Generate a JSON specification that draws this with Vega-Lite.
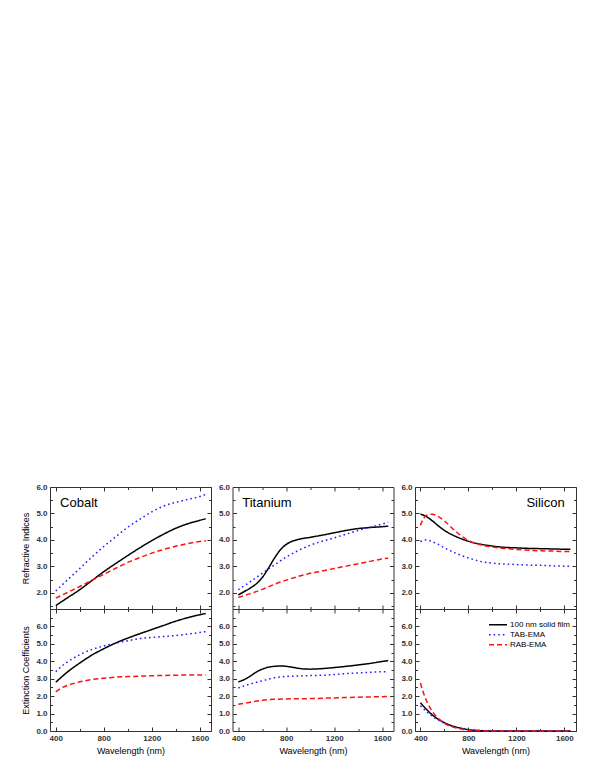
{
  "$schema": "https://vega.github.io/schema/vega-lite/v6.json",
  "padding": {"left": 21, "top": 482, "right": 5, "bottom": 5},
  "background": "white",
  "config": {
    "view": {"stroke": "#333333", "strokeWidth": 1},
    "axis": {
      "labelFont": "Liberation Sans", "labelFontSize": 8, "labelFontWeight": "bold", "labelColor": "#333333",
      "titleFont": "Liberation Sans", "titleFontSize": 9, "titleFontWeight": "normal", "titleColor": "#000000",
      "tickColor": "#333333", "tickWidth": 1, "domain": false, "grid": false, "labelOverlap": false, "labelPadding": 7
    },
    "legend": {
      "orient": "none", "legendX": 438, "legendY": 133, "title": null, "padding": 0,
      "symbolType": "stroke", "symbolSize": 324, "symbolStrokeWidth": 1.5, "clipHeight": 9.3, "rowPadding": 0,
      "labelFont": "Liberation Sans", "labelFontSize": 8, "labelColor": "#000000", "labelOffset": 2
    }
  },
  "datasets": {
    "d": [
      {"m":"Cobalt","q":"n","s":"100 nm solid film","w":400,"v":1.52},{"m":"Cobalt","q":"n","s":"100 nm solid film","w":500,"v":1.82},{"m":"Cobalt","q":"n","s":"100 nm solid film","w":600,"v":2.12},{"m":"Cobalt","q":"n","s":"100 nm solid film","w":700,"v":2.46},{"m":"Cobalt","q":"n","s":"100 nm solid film","w":800,"v":2.80},{"m":"Cobalt","q":"n","s":"100 nm solid film","w":900,"v":3.11},{"m":"Cobalt","q":"n","s":"100 nm solid film","w":1000,"v":3.41},{"m":"Cobalt","q":"n","s":"100 nm solid film","w":1100,"v":3.70},{"m":"Cobalt","q":"n","s":"100 nm solid film","w":1200,"v":3.97},{"m":"Cobalt","q":"n","s":"100 nm solid film","w":1300,"v":4.22},{"m":"Cobalt","q":"n","s":"100 nm solid film","w":1400,"v":4.44},{"m":"Cobalt","q":"n","s":"100 nm solid film","w":1500,"v":4.61},{"m":"Cobalt","q":"n","s":"100 nm solid film","w":1600,"v":4.74},{"m":"Cobalt","q":"n","s":"100 nm solid film","w":1650,"v":4.80},
      {"m":"Cobalt","q":"n","s":"TAB-EMA","w":400,"v":2.07},{"m":"Cobalt","q":"n","s":"TAB-EMA","w":500,"v":2.50},{"m":"Cobalt","q":"n","s":"TAB-EMA","w":600,"v":2.92},{"m":"Cobalt","q":"n","s":"TAB-EMA","w":700,"v":3.35},{"m":"Cobalt","q":"n","s":"TAB-EMA","w":800,"v":3.75},{"m":"Cobalt","q":"n","s":"TAB-EMA","w":900,"v":4.12},{"m":"Cobalt","q":"n","s":"TAB-EMA","w":1000,"v":4.48},{"m":"Cobalt","q":"n","s":"TAB-EMA","w":1100,"v":4.78},{"m":"Cobalt","q":"n","s":"TAB-EMA","w":1200,"v":5.06},{"m":"Cobalt","q":"n","s":"TAB-EMA","w":1300,"v":5.28},{"m":"Cobalt","q":"n","s":"TAB-EMA","w":1400,"v":5.42},{"m":"Cobalt","q":"n","s":"TAB-EMA","w":1500,"v":5.53},{"m":"Cobalt","q":"n","s":"TAB-EMA","w":1600,"v":5.64},{"m":"Cobalt","q":"n","s":"TAB-EMA","w":1650,"v":5.72},
      {"m":"Cobalt","q":"n","s":"RAB-EMA","w":400,"v":1.80},{"m":"Cobalt","q":"n","s":"RAB-EMA","w":500,"v":2.02},{"m":"Cobalt","q":"n","s":"RAB-EMA","w":600,"v":2.24},{"m":"Cobalt","q":"n","s":"RAB-EMA","w":700,"v":2.47},{"m":"Cobalt","q":"n","s":"RAB-EMA","w":800,"v":2.70},{"m":"Cobalt","q":"n","s":"RAB-EMA","w":900,"v":2.93},{"m":"Cobalt","q":"n","s":"RAB-EMA","w":1000,"v":3.15},{"m":"Cobalt","q":"n","s":"RAB-EMA","w":1100,"v":3.33},{"m":"Cobalt","q":"n","s":"RAB-EMA","w":1200,"v":3.50},{"m":"Cobalt","q":"n","s":"RAB-EMA","w":1300,"v":3.64},{"m":"Cobalt","q":"n","s":"RAB-EMA","w":1400,"v":3.76},{"m":"Cobalt","q":"n","s":"RAB-EMA","w":1500,"v":3.86},{"m":"Cobalt","q":"n","s":"RAB-EMA","w":1600,"v":3.94},{"m":"Cobalt","q":"n","s":"RAB-EMA","w":1650,"v":3.97},

      {"m":"Titanium","q":"n","s":"100 nm solid film","w":400,"v":1.92},{"m":"Titanium","q":"n","s":"100 nm solid film","w":450,"v":2.05},{"m":"Titanium","q":"n","s":"100 nm solid film","w":500,"v":2.18},{"m":"Titanium","q":"n","s":"100 nm solid film","w":550,"v":2.34},{"m":"Titanium","q":"n","s":"100 nm solid film","w":600,"v":2.58},{"m":"Titanium","q":"n","s":"100 nm solid film","w":650,"v":2.92},{"m":"Titanium","q":"n","s":"100 nm solid film","w":700,"v":3.30},{"m":"Titanium","q":"n","s":"100 nm solid film","w":750,"v":3.62},{"m":"Titanium","q":"n","s":"100 nm solid film","w":800,"v":3.83},{"m":"Titanium","q":"n","s":"100 nm solid film","w":850,"v":3.95},{"m":"Titanium","q":"n","s":"100 nm solid film","w":900,"v":4.02},{"m":"Titanium","q":"n","s":"100 nm solid film","w":1000,"v":4.10},{"m":"Titanium","q":"n","s":"100 nm solid film","w":1100,"v":4.18},{"m":"Titanium","q":"n","s":"100 nm solid film","w":1200,"v":4.27},{"m":"Titanium","q":"n","s":"100 nm solid film","w":1300,"v":4.36},{"m":"Titanium","q":"n","s":"100 nm solid film","w":1400,"v":4.43},{"m":"Titanium","q":"n","s":"100 nm solid film","w":1500,"v":4.47},{"m":"Titanium","q":"n","s":"100 nm solid film","w":1600,"v":4.50},{"m":"Titanium","q":"n","s":"100 nm solid film","w":1650,"v":4.52},
      {"m":"Titanium","q":"n","s":"TAB-EMA","w":400,"v":2.12},{"m":"Titanium","q":"n","s":"TAB-EMA","w":500,"v":2.42},{"m":"Titanium","q":"n","s":"TAB-EMA","w":600,"v":2.74},{"m":"Titanium","q":"n","s":"TAB-EMA","w":700,"v":3.05},{"m":"Titanium","q":"n","s":"TAB-EMA","w":800,"v":3.35},{"m":"Titanium","q":"n","s":"TAB-EMA","w":900,"v":3.60},{"m":"Titanium","q":"n","s":"TAB-EMA","w":1000,"v":3.80},{"m":"Titanium","q":"n","s":"TAB-EMA","w":1100,"v":3.95},{"m":"Titanium","q":"n","s":"TAB-EMA","w":1200,"v":4.08},{"m":"Titanium","q":"n","s":"TAB-EMA","w":1300,"v":4.22},{"m":"Titanium","q":"n","s":"TAB-EMA","w":1400,"v":4.36},{"m":"Titanium","q":"n","s":"TAB-EMA","w":1500,"v":4.48},{"m":"Titanium","q":"n","s":"TAB-EMA","w":1600,"v":4.60},{"m":"Titanium","q":"n","s":"TAB-EMA","w":1650,"v":4.67},
      {"m":"Titanium","q":"n","s":"RAB-EMA","w":400,"v":1.83},{"m":"Titanium","q":"n","s":"RAB-EMA","w":500,"v":1.97},{"m":"Titanium","q":"n","s":"RAB-EMA","w":600,"v":2.13},{"m":"Titanium","q":"n","s":"RAB-EMA","w":700,"v":2.32},{"m":"Titanium","q":"n","s":"RAB-EMA","w":800,"v":2.48},{"m":"Titanium","q":"n","s":"RAB-EMA","w":900,"v":2.62},{"m":"Titanium","q":"n","s":"RAB-EMA","w":1000,"v":2.74},{"m":"Titanium","q":"n","s":"RAB-EMA","w":1100,"v":2.83},{"m":"Titanium","q":"n","s":"RAB-EMA","w":1200,"v":2.92},{"m":"Titanium","q":"n","s":"RAB-EMA","w":1300,"v":3.01},{"m":"Titanium","q":"n","s":"RAB-EMA","w":1400,"v":3.10},{"m":"Titanium","q":"n","s":"RAB-EMA","w":1500,"v":3.19},{"m":"Titanium","q":"n","s":"RAB-EMA","w":1600,"v":3.28},{"m":"Titanium","q":"n","s":"RAB-EMA","w":1650,"v":3.31},

      {"m":"Silicon","q":"n","s":"100 nm solid film","w":400,"v":4.98},{"m":"Silicon","q":"n","s":"100 nm solid film","w":450,"v":4.88},{"m":"Silicon","q":"n","s":"100 nm solid film","w":500,"v":4.72},{"m":"Silicon","q":"n","s":"100 nm solid film","w":550,"v":4.53},{"m":"Silicon","q":"n","s":"100 nm solid film","w":600,"v":4.36},{"m":"Silicon","q":"n","s":"100 nm solid film","w":700,"v":4.12},{"m":"Silicon","q":"n","s":"100 nm solid film","w":800,"v":3.95},{"m":"Silicon","q":"n","s":"100 nm solid film","w":900,"v":3.84},{"m":"Silicon","q":"n","s":"100 nm solid film","w":1000,"v":3.77},{"m":"Silicon","q":"n","s":"100 nm solid film","w":1100,"v":3.72},{"m":"Silicon","q":"n","s":"100 nm solid film","w":1200,"v":3.70},{"m":"Silicon","q":"n","s":"100 nm solid film","w":1300,"v":3.68},{"m":"Silicon","q":"n","s":"100 nm solid film","w":1400,"v":3.67},{"m":"Silicon","q":"n","s":"100 nm solid film","w":1500,"v":3.66},{"m":"Silicon","q":"n","s":"100 nm solid film","w":1600,"v":3.65},{"m":"Silicon","q":"n","s":"100 nm solid film","w":1650,"v":3.65},
      {"m":"Silicon","q":"n","s":"TAB-EMA","w":400,"v":3.94},{"m":"Silicon","q":"n","s":"TAB-EMA","w":450,"v":4.00},{"m":"Silicon","q":"n","s":"TAB-EMA","w":500,"v":3.93},{"m":"Silicon","q":"n","s":"TAB-EMA","w":550,"v":3.83},{"m":"Silicon","q":"n","s":"TAB-EMA","w":600,"v":3.70},{"m":"Silicon","q":"n","s":"TAB-EMA","w":700,"v":3.49},{"m":"Silicon","q":"n","s":"TAB-EMA","w":800,"v":3.32},{"m":"Silicon","q":"n","s":"TAB-EMA","w":900,"v":3.19},{"m":"Silicon","q":"n","s":"TAB-EMA","w":1000,"v":3.12},{"m":"Silicon","q":"n","s":"TAB-EMA","w":1100,"v":3.09},{"m":"Silicon","q":"n","s":"TAB-EMA","w":1200,"v":3.07},{"m":"Silicon","q":"n","s":"TAB-EMA","w":1300,"v":3.05},{"m":"Silicon","q":"n","s":"TAB-EMA","w":1400,"v":3.04},{"m":"Silicon","q":"n","s":"TAB-EMA","w":1500,"v":3.02},{"m":"Silicon","q":"n","s":"TAB-EMA","w":1600,"v":3.01},{"m":"Silicon","q":"n","s":"TAB-EMA","w":1650,"v":3.00},
      {"m":"Silicon","q":"n","s":"RAB-EMA","w":400,"v":4.55},{"m":"Silicon","q":"n","s":"RAB-EMA","w":425,"v":4.80},{"m":"Silicon","q":"n","s":"RAB-EMA","w":450,"v":4.93},{"m":"Silicon","q":"n","s":"RAB-EMA","w":500,"v":4.97},{"m":"Silicon","q":"n","s":"RAB-EMA","w":550,"v":4.88},{"m":"Silicon","q":"n","s":"RAB-EMA","w":600,"v":4.72},{"m":"Silicon","q":"n","s":"RAB-EMA","w":700,"v":4.30},{"m":"Silicon","q":"n","s":"RAB-EMA","w":800,"v":3.98},{"m":"Silicon","q":"n","s":"RAB-EMA","w":900,"v":3.82},{"m":"Silicon","q":"n","s":"RAB-EMA","w":1000,"v":3.73},{"m":"Silicon","q":"n","s":"RAB-EMA","w":1100,"v":3.68},{"m":"Silicon","q":"n","s":"RAB-EMA","w":1200,"v":3.64},{"m":"Silicon","q":"n","s":"RAB-EMA","w":1300,"v":3.61},{"m":"Silicon","q":"n","s":"RAB-EMA","w":1400,"v":3.59},{"m":"Silicon","q":"n","s":"RAB-EMA","w":1500,"v":3.58},{"m":"Silicon","q":"n","s":"RAB-EMA","w":1600,"v":3.56},{"m":"Silicon","q":"n","s":"RAB-EMA","w":1650,"v":3.56},

      {"m":"Cobalt","q":"k","s":"100 nm solid film","w":400,"v":2.80},{"m":"Cobalt","q":"k","s":"100 nm solid film","w":500,"v":3.40},{"m":"Cobalt","q":"k","s":"100 nm solid film","w":600,"v":3.90},{"m":"Cobalt","q":"k","s":"100 nm solid film","w":700,"v":4.35},{"m":"Cobalt","q":"k","s":"100 nm solid film","w":800,"v":4.72},{"m":"Cobalt","q":"k","s":"100 nm solid film","w":900,"v":5.05},{"m":"Cobalt","q":"k","s":"100 nm solid film","w":1000,"v":5.33},{"m":"Cobalt","q":"k","s":"100 nm solid film","w":1100,"v":5.58},{"m":"Cobalt","q":"k","s":"100 nm solid film","w":1200,"v":5.82},{"m":"Cobalt","q":"k","s":"100 nm solid film","w":1300,"v":6.06},{"m":"Cobalt","q":"k","s":"100 nm solid film","w":1400,"v":6.30},{"m":"Cobalt","q":"k","s":"100 nm solid film","w":1500,"v":6.50},{"m":"Cobalt","q":"k","s":"100 nm solid film","w":1600,"v":6.67},{"m":"Cobalt","q":"k","s":"100 nm solid film","w":1650,"v":6.74},
      {"m":"Cobalt","q":"k","s":"TAB-EMA","w":400,"v":3.40},{"m":"Cobalt","q":"k","s":"TAB-EMA","w":450,"v":3.72},{"m":"Cobalt","q":"k","s":"TAB-EMA","w":500,"v":3.97},{"m":"Cobalt","q":"k","s":"TAB-EMA","w":600,"v":4.38},{"m":"Cobalt","q":"k","s":"TAB-EMA","w":700,"v":4.67},{"m":"Cobalt","q":"k","s":"TAB-EMA","w":800,"v":4.88},{"m":"Cobalt","q":"k","s":"TAB-EMA","w":900,"v":5.04},{"m":"Cobalt","q":"k","s":"TAB-EMA","w":1000,"v":5.18},{"m":"Cobalt","q":"k","s":"TAB-EMA","w":1100,"v":5.30},{"m":"Cobalt","q":"k","s":"TAB-EMA","w":1200,"v":5.37},{"m":"Cobalt","q":"k","s":"TAB-EMA","w":1300,"v":5.42},{"m":"Cobalt","q":"k","s":"TAB-EMA","w":1400,"v":5.48},{"m":"Cobalt","q":"k","s":"TAB-EMA","w":1500,"v":5.56},{"m":"Cobalt","q":"k","s":"TAB-EMA","w":1600,"v":5.65},{"m":"Cobalt","q":"k","s":"TAB-EMA","w":1650,"v":5.70},
      {"m":"Cobalt","q":"k","s":"RAB-EMA","w":400,"v":2.25},{"m":"Cobalt","q":"k","s":"RAB-EMA","w":450,"v":2.48},{"m":"Cobalt","q":"k","s":"RAB-EMA","w":500,"v":2.62},{"m":"Cobalt","q":"k","s":"RAB-EMA","w":600,"v":2.82},{"m":"Cobalt","q":"k","s":"RAB-EMA","w":700,"v":2.95},{"m":"Cobalt","q":"k","s":"RAB-EMA","w":800,"v":3.03},{"m":"Cobalt","q":"k","s":"RAB-EMA","w":900,"v":3.09},{"m":"Cobalt","q":"k","s":"RAB-EMA","w":1000,"v":3.12},{"m":"Cobalt","q":"k","s":"RAB-EMA","w":1200,"v":3.17},{"m":"Cobalt","q":"k","s":"RAB-EMA","w":1400,"v":3.20},{"m":"Cobalt","q":"k","s":"RAB-EMA","w":1600,"v":3.22},{"m":"Cobalt","q":"k","s":"RAB-EMA","w":1650,"v":3.22},

      {"m":"Titanium","q":"k","s":"100 nm solid film","w":400,"v":2.82},{"m":"Titanium","q":"k","s":"100 nm solid film","w":450,"v":2.95},{"m":"Titanium","q":"k","s":"100 nm solid film","w":500,"v":3.15},{"m":"Titanium","q":"k","s":"100 nm solid film","w":550,"v":3.38},{"m":"Titanium","q":"k","s":"100 nm solid film","w":600,"v":3.55},{"m":"Titanium","q":"k","s":"100 nm solid film","w":650,"v":3.66},{"m":"Titanium","q":"k","s":"100 nm solid film","w":700,"v":3.71},{"m":"Titanium","q":"k","s":"100 nm solid film","w":750,"v":3.73},{"m":"Titanium","q":"k","s":"100 nm solid film","w":800,"v":3.71},{"m":"Titanium","q":"k","s":"100 nm solid film","w":850,"v":3.66},{"m":"Titanium","q":"k","s":"100 nm solid film","w":900,"v":3.60},{"m":"Titanium","q":"k","s":"100 nm solid film","w":950,"v":3.56},{"m":"Titanium","q":"k","s":"100 nm solid film","w":1000,"v":3.55},{"m":"Titanium","q":"k","s":"100 nm solid film","w":1100,"v":3.58},{"m":"Titanium","q":"k","s":"100 nm solid film","w":1200,"v":3.64},{"m":"Titanium","q":"k","s":"100 nm solid film","w":1300,"v":3.71},{"m":"Titanium","q":"k","s":"100 nm solid film","w":1400,"v":3.79},{"m":"Titanium","q":"k","s":"100 nm solid film","w":1500,"v":3.88},{"m":"Titanium","q":"k","s":"100 nm solid film","w":1600,"v":3.99},{"m":"Titanium","q":"k","s":"100 nm solid film","w":1650,"v":4.04},
      {"m":"Titanium","q":"k","s":"TAB-EMA","w":400,"v":2.47},{"m":"Titanium","q":"k","s":"TAB-EMA","w":500,"v":2.70},{"m":"Titanium","q":"k","s":"TAB-EMA","w":600,"v":2.88},{"m":"Titanium","q":"k","s":"TAB-EMA","w":700,"v":3.05},{"m":"Titanium","q":"k","s":"TAB-EMA","w":800,"v":3.13},{"m":"Titanium","q":"k","s":"TAB-EMA","w":900,"v":3.16},{"m":"Titanium","q":"k","s":"TAB-EMA","w":1000,"v":3.18},{"m":"Titanium","q":"k","s":"TAB-EMA","w":1100,"v":3.20},{"m":"Titanium","q":"k","s":"TAB-EMA","w":1200,"v":3.24},{"m":"Titanium","q":"k","s":"TAB-EMA","w":1300,"v":3.29},{"m":"Titanium","q":"k","s":"TAB-EMA","w":1400,"v":3.33},{"m":"Titanium","q":"k","s":"TAB-EMA","w":1500,"v":3.37},{"m":"Titanium","q":"k","s":"TAB-EMA","w":1600,"v":3.40},{"m":"Titanium","q":"k","s":"TAB-EMA","w":1650,"v":3.40},
      {"m":"Titanium","q":"k","s":"RAB-EMA","w":400,"v":1.53},{"m":"Titanium","q":"k","s":"RAB-EMA","w":500,"v":1.65},{"m":"Titanium","q":"k","s":"RAB-EMA","w":600,"v":1.77},{"m":"Titanium","q":"k","s":"RAB-EMA","w":700,"v":1.82},{"m":"Titanium","q":"k","s":"RAB-EMA","w":800,"v":1.84},{"m":"Titanium","q":"k","s":"RAB-EMA","w":1000,"v":1.86},{"m":"Titanium","q":"k","s":"RAB-EMA","w":1200,"v":1.90},{"m":"Titanium","q":"k","s":"RAB-EMA","w":1400,"v":1.94},{"m":"Titanium","q":"k","s":"RAB-EMA","w":1600,"v":1.97},{"m":"Titanium","q":"k","s":"RAB-EMA","w":1650,"v":1.98},

      {"m":"Silicon","q":"k","s":"100 nm solid film","w":400,"v":1.62},{"m":"Silicon","q":"k","s":"100 nm solid film","w":450,"v":1.25},{"m":"Silicon","q":"k","s":"100 nm solid film","w":500,"v":0.92},{"m":"Silicon","q":"k","s":"100 nm solid film","w":550,"v":0.67},{"m":"Silicon","q":"k","s":"100 nm solid film","w":600,"v":0.48},{"m":"Silicon","q":"k","s":"100 nm solid film","w":650,"v":0.33},{"m":"Silicon","q":"k","s":"100 nm solid film","w":700,"v":0.22},{"m":"Silicon","q":"k","s":"100 nm solid film","w":750,"v":0.14},{"m":"Silicon","q":"k","s":"100 nm solid film","w":800,"v":0.08},{"m":"Silicon","q":"k","s":"100 nm solid film","w":850,"v":0.04},{"m":"Silicon","q":"k","s":"100 nm solid film","w":900,"v":0.02},{"m":"Silicon","q":"k","s":"100 nm solid film","w":1000,"v":0.005},{"m":"Silicon","q":"k","s":"100 nm solid film","w":1100,"v":0},{"m":"Silicon","q":"k","s":"100 nm solid film","w":1300,"v":0},{"m":"Silicon","q":"k","s":"100 nm solid film","w":1500,"v":0},{"m":"Silicon","q":"k","s":"100 nm solid film","w":1650,"v":0},
      {"m":"Silicon","q":"k","s":"TAB-EMA","w":400,"v":1.45},{"m":"Silicon","q":"k","s":"TAB-EMA","w":450,"v":1.12},{"m":"Silicon","q":"k","s":"TAB-EMA","w":500,"v":0.85},{"m":"Silicon","q":"k","s":"TAB-EMA","w":550,"v":0.62},{"m":"Silicon","q":"k","s":"TAB-EMA","w":600,"v":0.44},{"m":"Silicon","q":"k","s":"TAB-EMA","w":650,"v":0.30},{"m":"Silicon","q":"k","s":"TAB-EMA","w":700,"v":0.20},{"m":"Silicon","q":"k","s":"TAB-EMA","w":750,"v":0.13},{"m":"Silicon","q":"k","s":"TAB-EMA","w":800,"v":0.08},{"m":"Silicon","q":"k","s":"TAB-EMA","w":900,"v":0.03},{"m":"Silicon","q":"k","s":"TAB-EMA","w":1000,"v":0.01},{"m":"Silicon","q":"k","s":"TAB-EMA","w":1100,"v":0},{"m":"Silicon","q":"k","s":"TAB-EMA","w":1300,"v":0},{"m":"Silicon","q":"k","s":"TAB-EMA","w":1500,"v":0},{"m":"Silicon","q":"k","s":"TAB-EMA","w":1650,"v":0},
      {"m":"Silicon","q":"k","s":"RAB-EMA","w":400,"v":2.75},{"m":"Silicon","q":"k","s":"RAB-EMA","w":425,"v":2.20},{"m":"Silicon","q":"k","s":"RAB-EMA","w":450,"v":1.75},{"m":"Silicon","q":"k","s":"RAB-EMA","w":500,"v":1.12},{"m":"Silicon","q":"k","s":"RAB-EMA","w":550,"v":0.72},{"m":"Silicon","q":"k","s":"RAB-EMA","w":600,"v":0.45},{"m":"Silicon","q":"k","s":"RAB-EMA","w":650,"v":0.28},{"m":"Silicon","q":"k","s":"RAB-EMA","w":700,"v":0.17},{"m":"Silicon","q":"k","s":"RAB-EMA","w":750,"v":0.10},{"m":"Silicon","q":"k","s":"RAB-EMA","w":800,"v":0.06},{"m":"Silicon","q":"k","s":"RAB-EMA","w":900,"v":0.02},{"m":"Silicon","q":"k","s":"RAB-EMA","w":1000,"v":0},{"m":"Silicon","q":"k","s":"RAB-EMA","w":1300,"v":0},{"m":"Silicon","q":"k","s":"RAB-EMA","w":1650,"v":0}
    ]
  },
  "data": {"name": "d"},
  "columns": 3,
  "bounds": "flush",
  "spacing": {"row": 0, "column": 21.5},
  "resolve": {"scale": {"x": "independent", "y": "independent"}},
  "concat": [
    {
      "width": 161, "height": 122,
      "resolve": {"axis": {"x": "independent", "y": "independent"}},
      "layer": [
        {
          "transform": [{"filter": "datum.m === 'Cobalt' && datum.q === 'n'"}],
          "mark": {"type": "line", "interpolate": "monotone", "strokeWidth": 1.5},
          "encoding": {
            "x": {"field": "w", "type": "quantitative", "scale": {"domain": [352, 1694], "nice": false, "zero": false},
                  "axis": {"orient": "bottom", "values": [400,600,800,1000,1200,1400,1600], "labels": false, "title": null, "tickSize": {"condition": {"test": "datum.value % 400 === 0", "value": -4}, "value": -2.5}}},
            "y": {"field": "v", "type": "quantitative", "scale": {"domain": [1.39, 6.0], "nice": false, "zero": false},
                  "axis": {"orient": "left", "values": [1.5,2,2.5,3,3.5,4,4.5,5,5.5,6], "labelExpr": "datum.value % 1 === 0 ? format(datum.value, '.1f') : ''", "title": "Refractive Indices", "titlePadding": 5, "tickSize": {"condition": {"test": "datum.value % 1 === 0", "value": -4}, "value": -2.5}}},
            "color": {"field": "s", "type": "nominal", "scale": {"domain": ["100 nm solid film", "TAB-EMA", "RAB-EMA"], "range": ["#000000", "#1f1fff", "#ff1010"]}},
            "strokeDash": {"field": "s", "type": "nominal", "scale": {"domain": ["100 nm solid film", "TAB-EMA", "RAB-EMA"], "range": [[1, 0], [1.6, 3], [5, 3]]}}
          }
        },
        {
          "data": {"values": [{"t": "Cobalt"}]},
          "mark": {"type": "text", "align": "left", "baseline": "alphabetic", "fontSize": 13, "font": "Liberation Sans", "color": "#000000"},
          "encoding": {
            "x": {"datum": 436, "type": "quantitative", "axis": {"orient": "top", "values": [400,600,800,1000,1200,1400,1600], "labels": false, "title": null, "tickSize": {"condition": {"test": "datum.value % 400 === 0", "value": -4}, "value": -2.5}}},
            "y": {"datum": 5.24, "type": "quantitative", "axis": {"orient": "right", "values": [1.5,2,2.5,3,3.5,4,4.5,5,5.5,6], "labels": false, "title": null, "tickSize": {"condition": {"test": "datum.value % 1 === 0", "value": -4}, "value": -2.5}}},
            "text": {"field": "t"}
          }
        }
      ]
    },
    {
      "width": 161, "height": 122,
      "resolve": {"axis": {"x": "independent", "y": "independent"}},
      "layer": [
        {
          "transform": [{"filter": "datum.m === 'Titanium' && datum.q === 'n'"}],
          "mark": {"type": "line", "interpolate": "monotone", "strokeWidth": 1.5},
          "encoding": {
            "x": {"field": "w", "type": "quantitative", "scale": {"domain": [352, 1694], "nice": false, "zero": false},
                  "axis": {"orient": "bottom", "values": [400,600,800,1000,1200,1400,1600], "labels": false, "title": null, "tickSize": {"condition": {"test": "datum.value % 400 === 0", "value": -4}, "value": -2.5}}},
            "y": {"field": "v", "type": "quantitative", "scale": {"domain": [1.39, 6.0], "nice": false, "zero": false},
                  "axis": {"orient": "left", "values": [1.5,2,2.5,3,3.5,4,4.5,5,5.5,6], "labelExpr": "datum.value % 1 === 0 ? format(datum.value, '.1f') : ''", "title": null, "tickSize": {"condition": {"test": "datum.value % 1 === 0", "value": -4}, "value": -2.5}}},
            "color": {"field": "s", "type": "nominal", "scale": {"domain": ["100 nm solid film", "TAB-EMA", "RAB-EMA"], "range": ["#000000", "#1f1fff", "#ff1010"]}},
            "strokeDash": {"field": "s", "type": "nominal", "scale": {"domain": ["100 nm solid film", "TAB-EMA", "RAB-EMA"], "range": [[1, 0], [1.6, 3], [5, 3]]}}
          }
        },
        {
          "data": {"values": [{"t": "Titanium"}]},
          "mark": {"type": "text", "align": "left", "baseline": "alphabetic", "fontSize": 13, "font": "Liberation Sans", "color": "#000000"},
          "encoding": {
            "x": {"datum": 433, "type": "quantitative", "axis": {"orient": "top", "values": [400,600,800,1000,1200,1400,1600], "labels": false, "title": null, "tickSize": {"condition": {"test": "datum.value % 400 === 0", "value": -4}, "value": -2.5}}},
            "y": {"datum": 5.24, "type": "quantitative", "axis": {"orient": "right", "values": [1.5,2,2.5,3,3.5,4,4.5,5,5.5,6], "labels": false, "title": null, "tickSize": {"condition": {"test": "datum.value % 1 === 0", "value": -4}, "value": -2.5}}},
            "text": {"field": "t"}
          }
        }
      ]
    },
    {
      "width": 161, "height": 122,
      "resolve": {"axis": {"x": "independent", "y": "independent"}},
      "layer": [
        {
          "transform": [{"filter": "datum.m === 'Silicon' && datum.q === 'n'"}],
          "mark": {"type": "line", "interpolate": "monotone", "strokeWidth": 1.5},
          "encoding": {
            "x": {"field": "w", "type": "quantitative", "scale": {"domain": [355, 1697], "nice": false, "zero": false},
                  "axis": {"orient": "bottom", "values": [400,600,800,1000,1200,1400,1600], "labels": false, "title": null, "tickSize": {"condition": {"test": "datum.value % 400 === 0", "value": -4}, "value": -2.5}}},
            "y": {"field": "v", "type": "quantitative", "scale": {"domain": [1.39, 6.0], "nice": false, "zero": false},
                  "axis": {"orient": "left", "values": [1.5,2,2.5,3,3.5,4,4.5,5,5.5,6], "labelExpr": "datum.value % 1 === 0 ? format(datum.value, '.1f') : ''", "title": null, "tickSize": {"condition": {"test": "datum.value % 1 === 0", "value": -4}, "value": -2.5}}},
            "color": {"field": "s", "type": "nominal", "scale": {"domain": ["100 nm solid film", "TAB-EMA", "RAB-EMA"], "range": ["#000000", "#1f1fff", "#ff1010"]}},
            "strokeDash": {"field": "s", "type": "nominal", "scale": {"domain": ["100 nm solid film", "TAB-EMA", "RAB-EMA"], "range": [[1, 0], [1.6, 3], [5, 3]]}}
          }
        },
        {
          "data": {"values": [{"t": "Silicon"}]},
          "mark": {"type": "text", "align": "right", "baseline": "alphabetic", "fontSize": 13, "font": "Liberation Sans", "color": "#000000"},
          "encoding": {
            "x": {"datum": 1603, "type": "quantitative", "axis": {"orient": "top", "values": [400,600,800,1000,1200,1400,1600], "labels": false, "title": null, "tickSize": {"condition": {"test": "datum.value % 400 === 0", "value": -4}, "value": -2.5}}},
            "y": {"datum": 5.24, "type": "quantitative", "axis": {"orient": "right", "values": [1.5,2,2.5,3,3.5,4,4.5,5,5.5,6], "labels": false, "title": null, "tickSize": {"condition": {"test": "datum.value % 1 === 0", "value": -4}, "value": -2.5}}},
            "text": {"field": "t"}
          }
        }
      ]
    },
    {
      "width": 161, "height": 122,
      "resolve": {"axis": {"x": "independent", "y": "independent"}},
      "layer": [
        {
          "transform": [{"filter": "datum.m === 'Cobalt' && datum.q === 'k'"}],
          "mark": {"type": "line", "interpolate": "monotone", "strokeWidth": 1.5},
          "encoding": {
            "x": {"field": "w", "type": "quantitative", "scale": {"domain": [352, 1694], "nice": false, "zero": false},
                  "axis": {"orient": "bottom", "values": [400,600,800,1000,1200,1400,1600], "labelExpr": "datum.value % 400 === 0 ? format(datum.value, 'd') : ''", "title": "Wavelength (nm)", "titlePadding": 3, "tickSize": {"condition": {"test": "datum.value % 400 === 0", "value": -4}, "value": -2.5}}},
            "y": {"field": "v", "type": "quantitative", "scale": {"domain": [0, 7], "nice": false, "zero": false},
                  "axis": {"orient": "left", "values": [0,0.5,1,1.5,2,2.5,3,3.5,4,4.5,5,5.5,6,6.5], "labelExpr": "datum.value % 1 === 0 ? format(datum.value, '.1f') : ''", "title": "Extinction Coefficients", "titlePadding": 5, "tickSize": {"condition": {"test": "datum.value % 1 === 0", "value": -4}, "value": -2.5}}},
            "color": {"field": "s", "type": "nominal", "scale": {"domain": ["100 nm solid film", "TAB-EMA", "RAB-EMA"], "range": ["#000000", "#1f1fff", "#ff1010"]}},
            "strokeDash": {"field": "s", "type": "nominal", "scale": {"domain": ["100 nm solid film", "TAB-EMA", "RAB-EMA"], "range": [[1, 0], [1.6, 3], [5, 3]]}}
          }
        },
        {
          "data": {"values": [{"t": ""}]},
          "mark": {"type": "text"},
          "encoding": {
            "x": {"datum": 1000, "type": "quantitative", "axis": {"orient": "top", "values": [400,600,800,1000,1200,1400,1600], "labels": false, "title": null, "tickSize": {"condition": {"test": "datum.value % 400 === 0", "value": -4}, "value": -2.5}}},
            "y": {"datum": 3, "type": "quantitative", "axis": {"orient": "right", "values": [0,0.5,1,1.5,2,2.5,3,3.5,4,4.5,5,5.5,6,6.5], "labels": false, "title": null, "tickSize": {"condition": {"test": "datum.value % 1 === 0", "value": -4}, "value": -2.5}}},
            "text": {"field": "t"}
          }
        }
      ]
    },
    {
      "width": 161, "height": 122,
      "resolve": {"axis": {"x": "independent", "y": "independent"}},
      "layer": [
        {
          "transform": [{"filter": "datum.m === 'Titanium' && datum.q === 'k'"}],
          "mark": {"type": "line", "interpolate": "monotone", "strokeWidth": 1.5},
          "encoding": {
            "x": {"field": "w", "type": "quantitative", "scale": {"domain": [352, 1694], "nice": false, "zero": false},
                  "axis": {"orient": "bottom", "values": [400,600,800,1000,1200,1400,1600], "labelExpr": "datum.value % 400 === 0 ? format(datum.value, 'd') : ''", "title": "Wavelength (nm)", "titlePadding": 3, "tickSize": {"condition": {"test": "datum.value % 400 === 0", "value": -4}, "value": -2.5}}},
            "y": {"field": "v", "type": "quantitative", "scale": {"domain": [0, 7], "nice": false, "zero": false},
                  "axis": {"orient": "left", "values": [0,0.5,1,1.5,2,2.5,3,3.5,4,4.5,5,5.5,6,6.5], "labelExpr": "datum.value % 1 === 0 ? format(datum.value, '.1f') : ''", "title": null, "tickSize": {"condition": {"test": "datum.value % 1 === 0", "value": -4}, "value": -2.5}}},
            "color": {"field": "s", "type": "nominal", "scale": {"domain": ["100 nm solid film", "TAB-EMA", "RAB-EMA"], "range": ["#000000", "#1f1fff", "#ff1010"]}},
            "strokeDash": {"field": "s", "type": "nominal", "scale": {"domain": ["100 nm solid film", "TAB-EMA", "RAB-EMA"], "range": [[1, 0], [1.6, 3], [5, 3]]}}
          }
        },
        {
          "data": {"values": [{"t": ""}]},
          "mark": {"type": "text"},
          "encoding": {
            "x": {"datum": 1000, "type": "quantitative", "axis": {"orient": "top", "values": [400,600,800,1000,1200,1400,1600], "labels": false, "title": null, "tickSize": {"condition": {"test": "datum.value % 400 === 0", "value": -4}, "value": -2.5}}},
            "y": {"datum": 3, "type": "quantitative", "axis": {"orient": "right", "values": [0,0.5,1,1.5,2,2.5,3,3.5,4,4.5,5,5.5,6,6.5], "labels": false, "title": null, "tickSize": {"condition": {"test": "datum.value % 1 === 0", "value": -4}, "value": -2.5}}},
            "text": {"field": "t"}
          }
        }
      ]
    },
    {
      "width": 161, "height": 122,
      "resolve": {"axis": {"x": "independent", "y": "independent"}},
      "layer": [
        {
          "transform": [{"filter": "datum.m === 'Silicon' && datum.q === 'k'"}],
          "mark": {"type": "line", "interpolate": "monotone", "strokeWidth": 1.5},
          "encoding": {
            "x": {"field": "w", "type": "quantitative", "scale": {"domain": [355, 1697], "nice": false, "zero": false},
                  "axis": {"orient": "bottom", "values": [400,600,800,1000,1200,1400,1600], "labelExpr": "datum.value % 400 === 0 ? format(datum.value, 'd') : ''", "title": "Wavelength (nm)", "titlePadding": 3, "tickSize": {"condition": {"test": "datum.value % 400 === 0", "value": -4}, "value": -2.5}}},
            "y": {"field": "v", "type": "quantitative", "scale": {"domain": [0, 7], "nice": false, "zero": false},
                  "axis": {"orient": "left", "values": [0,0.5,1,1.5,2,2.5,3,3.5,4,4.5,5,5.5,6,6.5], "labelExpr": "datum.value % 1 === 0 ? format(datum.value, '.1f') : ''", "title": null, "tickSize": {"condition": {"test": "datum.value % 1 === 0", "value": -4}, "value": -2.5}}},
            "color": {"field": "s", "type": "nominal", "scale": {"domain": ["100 nm solid film", "TAB-EMA", "RAB-EMA"], "range": ["#000000", "#1f1fff", "#ff1010"]}},
            "strokeDash": {"field": "s", "type": "nominal", "scale": {"domain": ["100 nm solid film", "TAB-EMA", "RAB-EMA"], "range": [[1, 0], [1.6, 3], [5, 3]]}}
          }
        },
        {
          "data": {"values": [{"t": ""}]},
          "mark": {"type": "text"},
          "encoding": {
            "x": {"datum": 1000, "type": "quantitative", "axis": {"orient": "top", "values": [400,600,800,1000,1200,1400,1600], "labels": false, "title": null, "tickSize": {"condition": {"test": "datum.value % 400 === 0", "value": -4}, "value": -2.5}}},
            "y": {"datum": 3, "type": "quantitative", "axis": {"orient": "right", "values": [0,0.5,1,1.5,2,2.5,3,3.5,4,4.5,5,5.5,6,6.5], "labels": false, "title": null, "tickSize": {"condition": {"test": "datum.value % 1 === 0", "value": -4}, "value": -2.5}}},
            "text": {"field": "t"}
          }
        }
      ]
    }
  ]
}
